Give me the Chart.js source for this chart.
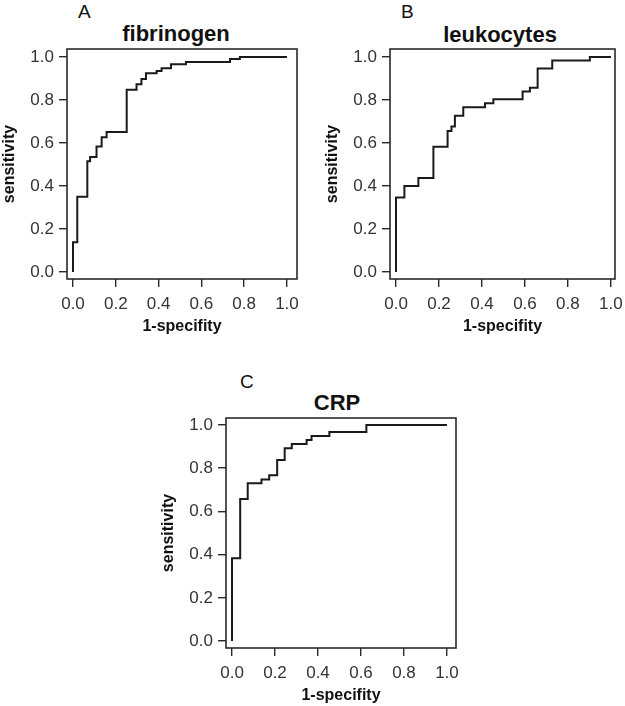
<!DOCTYPE html>
<html>
<head>
<meta charset="utf-8">
<script src="https://cdn.jsdelivr.net/npm/chart.js@4"></script>
<style>
  html, body { margin: 0; padding: 0; background: #fff; }
  body { width: 625px; height: 706px; position: relative; overflow: hidden; font-family: "Liberation Sans", Arial, sans-serif; }
  canvas { position: absolute; }
  .lbl { position: absolute; white-space: nowrap; color: #111; line-height: 20px; }
  .letter { font-size: 19px; }
  .ttl { font-size: 22px; font-weight: bold; line-height: 22px; transform: translateX(-50%); }
</style>
</head>
<body>
<div class="lbl letter" style="left:78px; top:2px;">A</div>
<div class="lbl letter" style="left:401px; top:2px;">B</div>
<div class="lbl letter" style="left:240px; top:372px;">C</div>
<div class="lbl ttl" style="left:176px; top:23px;">fibrinogen</div>
<div class="lbl ttl" style="left:500px; top:24px;">leukocytes</div>
<div class="lbl ttl" style="left:337px; top:392px;">CRP</div>

<canvas id="cA" width="312" height="336" style="left:0px; top:0px;"></canvas>
<canvas id="cB" width="312" height="336" style="left:323px; top:0px;"></canvas>
<canvas id="cC" width="310" height="345" style="left:159px; top:360px;"></canvas>

<script>
// ROC curve points (1-specificity, sensitivity)
const fibrinogenX = [0, 0, 0.020, 0.067, 0.080, 0.110, 0.134, 0.157, 0.251, 0.297, 0.320, 0.341, 0.391, 0.414, 0.458, 0.528, 0.734, 0.780, 1.0];
const fibrinogenY = [0, 0.138, 0.350, 0.515, 0.535, 0.583, 0.627, 0.651, 0.847, 0.873, 0.898, 0.924, 0.935, 0.947, 0.966, 0.977, 0.991, 1.0, 1.0];

const leukocytesX = [0, 0, 0.039, 0.104, 0.174, 0.240, 0.258, 0.274, 0.313, 0.414, 0.453, 0.589, 0.623, 0.659, 0.727, 0.902, 1.0];
const leukocytesY = [0, 0.346, 0.400, 0.437, 0.582, 0.655, 0.676, 0.727, 0.766, 0.785, 0.803, 0.839, 0.857, 0.946, 0.983, 1.0, 1.0];

const crpX = [0, 0, 0.038, 0.073, 0.137, 0.173, 0.210, 0.245, 0.278, 0.347, 0.370, 0.453, 0.625, 1.0];
const crpY = [0, 0.383, 0.657, 0.730, 0.747, 0.767, 0.838, 0.892, 0.912, 0.930, 0.949, 0.967, 1.0, 1.0];

const tickValues = [0, 0.2, 0.4, 0.6, 0.8, 1.0];
const xAxisTitle = '1-specifity';
const yAxisTitle = 'sensitivity';

const boxPlugin = {
  id: 'box',
  afterDraw(chart) {
    const a = chart.chartArea, ctx = chart.ctx;
    ctx.save();
    ctx.strokeStyle = '#2a2a2a';
    ctx.lineWidth = 1.6;
    ctx.strokeRect(a.left, a.top, a.right - a.left, a.bottom - a.top);
    ctx.restore();
  }
};

function makeChart(id, xs, ys, cfg) {
  const pts = xs.map((x, i) => ({ x: x, y: ys[i] }));
  const tickFont = { family: '"Liberation Sans", Arial, sans-serif', size: 17 };
  const titleFont = { family: '"Liberation Sans", Arial, sans-serif', size: 16, weight: 'bold' };
  return new Chart(document.getElementById(id), {
    type: 'line',
    data: { datasets: [{ data: pts, stepped: 'before', borderColor: '#1a1a1a', borderWidth: 2, pointRadius: 0, fill: false }] },
    options: {
      responsive: false, animation: false, devicePixelRatio: 1,
      layout: { padding: { top: cfg.padTop, right: cfg.padRight, left: 0, bottom: 0 } },
      plugins: { legend: { display: false }, tooltip: { enabled: false }, title: { display: false } },
      scales: {
        x: {
          type: 'linear', min: -0.028, max: cfg.xMax,
          afterBuildTicks: s => { s.ticks = tickValues.map(v => ({ value: v })); },
          afterFit: s => { s.height = 57; },
          grid: { drawOnChartArea: false, drawTicks: true, tickLength: 8, color: '#2a2a2a', lineWidth: 1.4 },
          border: { display: false },
          ticks: { color: '#333', font: tickFont, padding: 7, maxRotation: 0, callback: v => Number(v).toFixed(1) },
          title: { display: true, text: xAxisTitle, color: '#111', font: titleFont, padding: { top: 0, bottom: 0 } }
        },
        y: {
          type: 'linear', min: cfg.yMin, max: cfg.yMax,
          afterBuildTicks: s => { s.ticks = tickValues.map(v => ({ value: v })); },
          afterFit: s => { s.width = 67; },
          grid: { drawOnChartArea: false, drawTicks: true, tickLength: 8, color: '#2a2a2a', lineWidth: 1.4 },
          border: { display: false },
          ticks: { color: '#333', font: tickFont, padding: 5, callback: v => Number(v).toFixed(1) },
          title: { display: true, text: yAxisTitle, color: '#111', font: titleFont, padding: { top: 0, bottom: 0 } }
        }
      }
    },
    plugins: [boxPlugin]
  });
}

makeChart('cA', fibrinogenX, fibrinogenY, { padTop: 49, padRight: 15, xMax: 1.047, yMin: -0.033, yMax: 1.037 });
makeChart('cB', leukocytesX, leukocytesY, { padTop: 49, padRight: 20, xMax: 1.019, yMin: -0.033, yMax: 1.037 });
makeChart('cC', crpX, crpY, { padTop: 58, padRight: 13, xMax: 1.042, yMin: -0.032, yMax: 1.032 });
</script>
</body>
</html>
